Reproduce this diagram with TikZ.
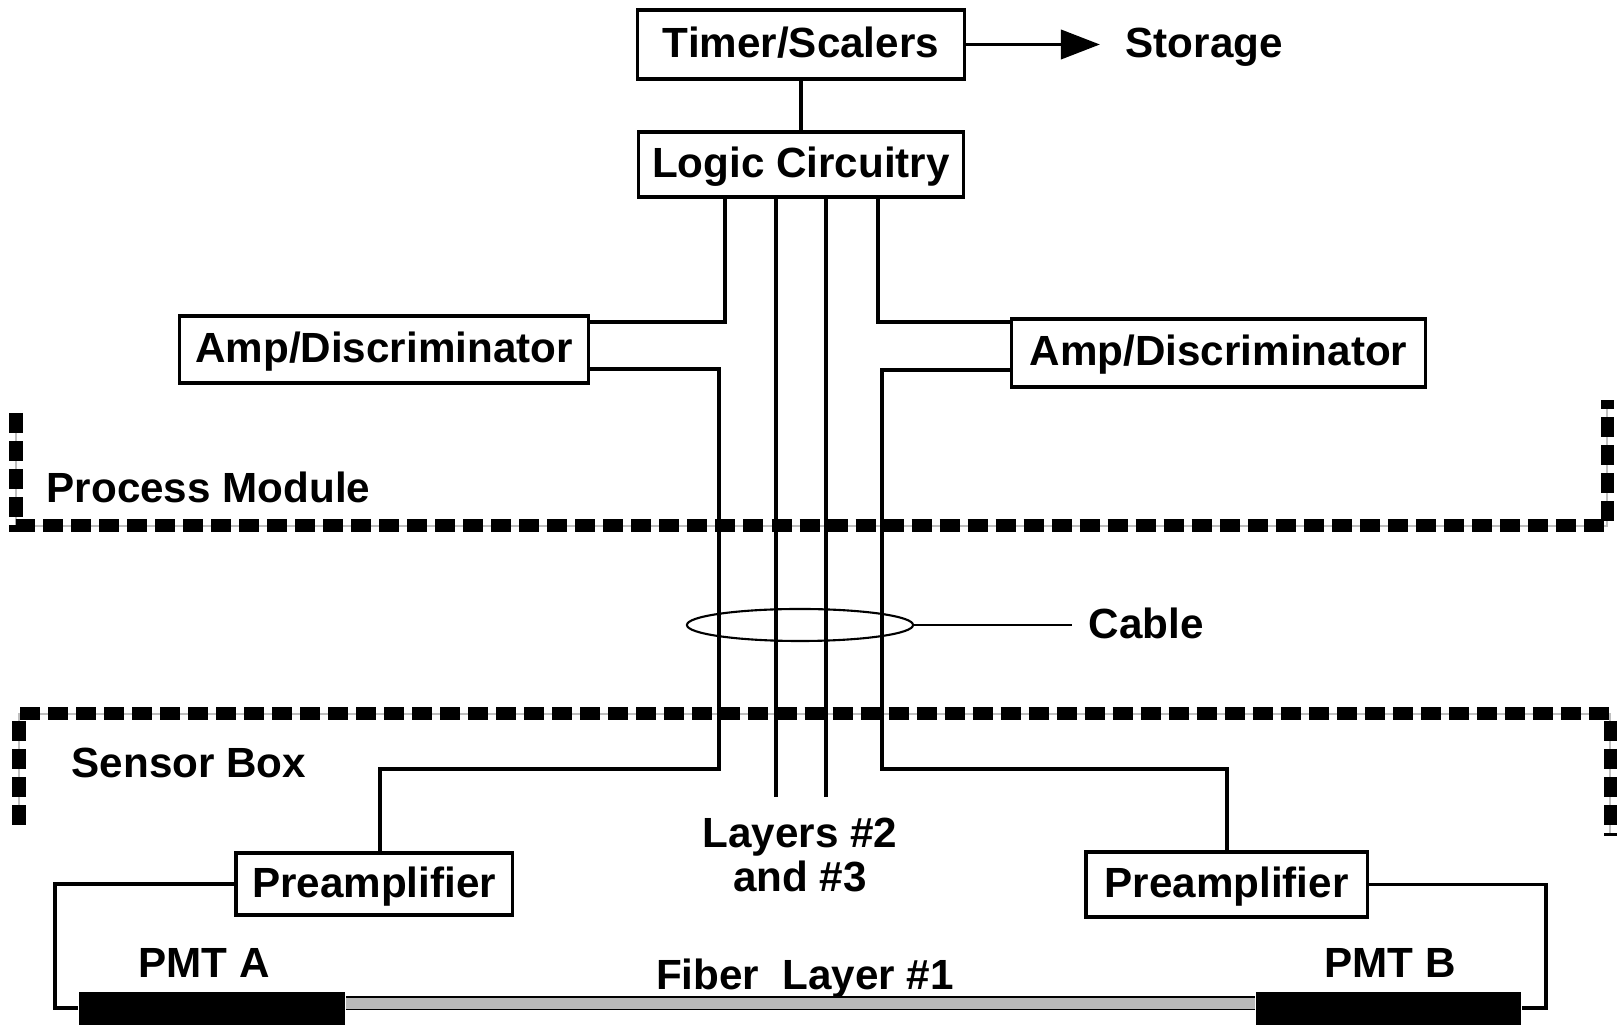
\documentclass[tikz,border=0pt]{standalone}
\usepackage{fontspec}
\setmainfont{Liberation Sans}
\usetikzlibrary{arrows.meta,shapes.geometric}

\begin{document}
\begin{tikzpicture}[x=0.01cm, y=-0.01cm, node distance=4.03cm,
  lbl/.style={font=\bfseries\fontsize{12}{12.6}\selectfont, inner sep=0pt, text height=0.31cm, text depth=0.05cm},
  box/.style={lbl, draw, rectangle, line width=0.9pt},
  wire/.style={line width=1.1pt},
  thinwire/.style={line width=0.6pt},
  border/.style={line width=1.3mm, dash pattern=on 2mm off 0.8mm, preaction={draw=gray!50, solid}},
  fiber/.style={double=gray!55, double distance=1.1mm, line width=0.15mm},
  pmt/.style={fill=black, rectangle, inner sep=0pt, minimum height=0.33cm}]
\useasboundingbox (0,0) rectangle (1617,1025);

% walls of the two enclosures
\draw[border] (16,413) -- (16,526) -- (1607,526) -- (1607,400);
\draw[border] (19,825) -- (19,714) -- (1610,714) -- (1610,836);

\node (T)[box, minimum width=3.26cm, minimum height=0.69cm] at (801,44.5) {Timer/Scalers};
\node (St)[lbl] [right of = T] {Storage};
\node (L)[box, minimum width=3.24cm, minimum height=0.65cm] at (801,164.5) {Logic Circuitry};
\node (A1)[box, minimum width=4.08cm, minimum height=0.67cm] at (384,349.5) {Amp/Discriminator};
\node (A2)[box, minimum width=4.13cm, minimum height=0.68cm] at (1218.5,353) {Amp/Discriminator};
\node (P1)[box, minimum width=2.76cm, minimum height=0.62cm] at (374,884) {Preamplifier};
\node (P2)[box, minimum width=2.81cm, minimum height=0.65cm] at (1226.5,884.5) {Preamplifier};
\node (PA)[pmt, minimum width=2.66cm] at (212,1008.5) {};
\node (PB)[pmt, minimum width=2.65cm] at (1388.5,1008.5) {};
\node (cab)[draw, ellipse, thinwire, inner sep=0pt, minimum width=2.26cm, minimum height=0.32cm] at (800,625) {};
\node (Ct)[lbl, anchor=west] at (1088,625) {Cable};

\node (pm)[lbl, anchor=west] at (46,490) {Process Module};
\node (sb)[lbl, anchor=west] at (71,764) {Sensor Box};
\node (ta)[lbl] at (204,964) {PMT A};
\node (tb)[lbl] at (1390,964) {PMT B};
\node (ly)[font=\bfseries\fontsize{12}{12.6}\selectfont, align=center, inner sep=0pt] at (800,855) {Layers \#2\\and \#3};
\node (fl)[lbl] at (805,976) {Fiber\ \ Layer \#1};

% bends of the signal lines
\coordinate (c1) at (725,322);
\coordinate (c2) at (719,369);
\coordinate (c3) at (380,769);
\coordinate (c4) at (878,322);
\coordinate (c5) at (882,370);
\coordinate (c6) at (1227,769);
\coordinate (c7) at (776,797);
\coordinate (c8) at (826,797);
\coordinate (c9) at (55,1008);
\coordinate (c10) at (1546,1008);
\coordinate (f) at (0,1003.5);

\draw[wire] (T) -- (L);
\draw[wire, -{Triangle[length=3.9mm, width=2.9mm]}, shorten >=0.25cm] (T) -- (St);
\draw[wire] (L.south -| c1) |- (A1.east |- c1);
\draw[wire] (A1.east |- c2) -| (c2 |- c3) -| (P1.north -| c3);
\draw[wire] (L.south -| c4) |- (A2.west |- c4);
\draw[wire] (A2.west |- c5) -| (c5 |- c6) -| (P2.north -| c6);
\draw[wire] (L.south -| c7) -- (c7);
\draw[wire] (L.south -| c8) -- (c8);
\draw[wire] (P1.west) -| (c9) -- (PA.west |- c9);
\draw[wire] (P2.east) -| (c10) -- (PB.east |- c10);
\draw[thinwire, shorten >=0.16cm] (cab) -- (Ct);
\draw[fiber] (PA.east |- f) -- (PB.west |- f);
\end{tikzpicture}
\end{document}
